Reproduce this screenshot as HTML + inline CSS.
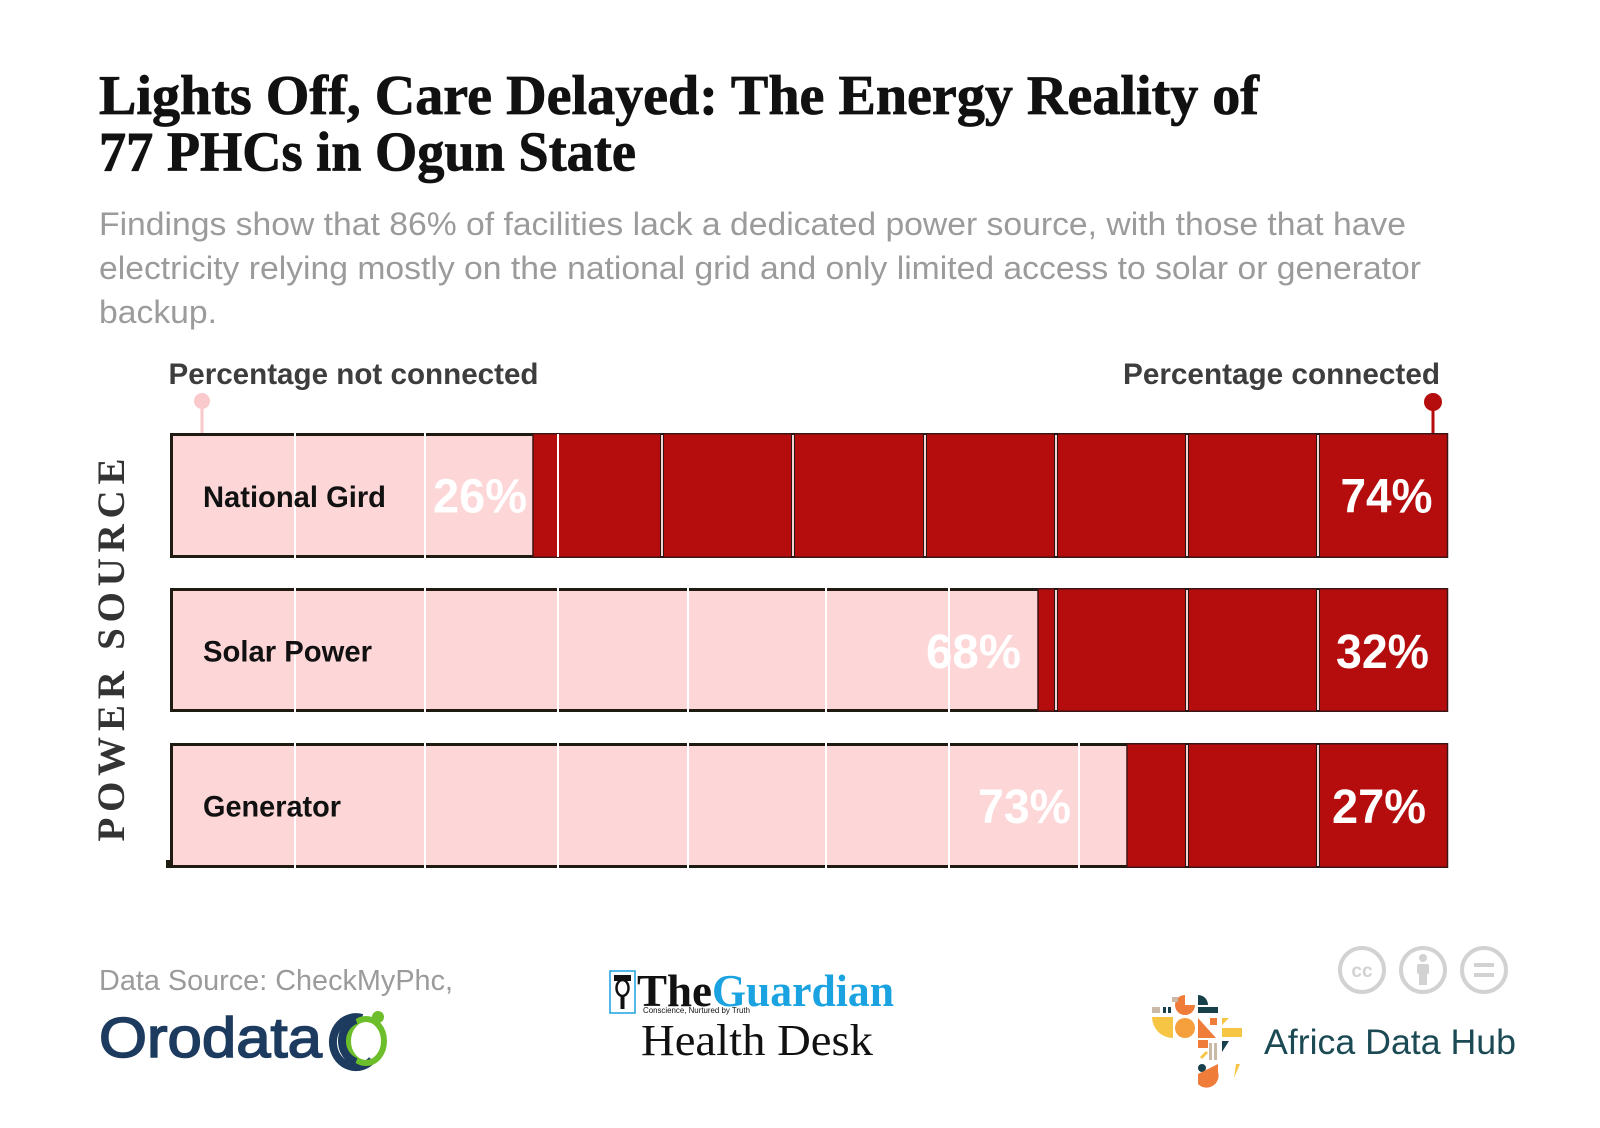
<!DOCTYPE html>
<html><head><meta charset="utf-8"><style>
html,body{margin:0;padding:0;background:#fff;}
svg{display:block;}
text{font-family:"Liberation Sans",sans-serif;}
.serif{font-family:"Liberation Serif",serif;}
</style></head><body>
<svg width="1600" height="1128" viewBox="0 0 1600 1128" xmlns="http://www.w3.org/2000/svg">
<rect width="1600" height="1128" fill="#fff"/>

<!-- Title -->
<text class="serif" x="99" y="114" font-size="56" font-weight="700" fill="#111" stroke="#111" stroke-width="0.8" textLength="1160" lengthAdjust="spacingAndGlyphs">Lights Off, Care Delayed: The Energy Reality of</text>
<text class="serif" x="99" y="170.5" font-size="56" font-weight="700" fill="#111" stroke="#111" stroke-width="0.8" textLength="537" lengthAdjust="spacingAndGlyphs">77 PHCs in Ogun State</text>

<!-- Subtitle -->
<text x="99" y="235" font-size="32" fill="#9b9b9b" textLength="1307" lengthAdjust="spacingAndGlyphs">Findings show that 86% of facilities lack a dedicated power source, with those that have</text>
<text x="99" y="279" font-size="32" fill="#9b9b9b" textLength="1322" lengthAdjust="spacingAndGlyphs">electricity relying mostly on the national grid and only limited access to solar or generator</text>
<text x="99" y="323" font-size="32" fill="#9b9b9b" textLength="118" lengthAdjust="spacingAndGlyphs">backup.</text>

<!-- Legend labels -->
<text x="168.5" y="384" font-size="30" font-weight="700" fill="#3d3d3d" textLength="370" lengthAdjust="spacingAndGlyphs">Percentage not connected</text>
<text x="1123" y="384" font-size="30" font-weight="700" fill="#3d3d3d" textLength="317" lengthAdjust="spacingAndGlyphs">Percentage connected</text>

<!-- markers -->
<rect x="200.5" y="401" width="3" height="32" fill="#f9c9cc"/>
<circle cx="202" cy="401" r="8" fill="#f9c9cc"/>
<rect x="1431.5" y="402" width="3" height="31" fill="#b50d0d"/>
<circle cx="1433" cy="402" r="9" fill="#b50d0d"/>

<!-- POWER SOURCE -->
<text class="serif" transform="translate(124,650) rotate(-90)" x="0" y="0" text-anchor="middle" font-size="39" font-weight="700" fill="#333" textLength="383" lengthAdjust="spacing">POWER SOURCE</text>

<!-- Row 1 -->
<g>
<rect x="170" y="433" width="363" height="125" fill="#fdd6d7"/>
<rect x="170" y="433" width="363" height="3" fill="#1f1a12"/>
<rect x="170" y="555" width="363" height="3" fill="#1f1a12"/>
<rect x="170" y="433" width="3" height="125" fill="#1f1a12"/>
<rect x="533" y="433.75" width="914.5" height="123.5" fill="#b50d0d" stroke="#3e1515" stroke-width="1.5"/>
<rect x="294" y="433" width="2" height="125" fill="#fff"/>
<rect x="424" y="433" width="2" height="125" fill="#fff"/>
<rect x="557" y="434" width="2" height="123" fill="#fff"/>
</g>
<!-- Row 2 -->
<g>
<rect x="170" y="588" width="868" height="124" fill="#fdd6d7"/>
<rect x="170" y="588" width="868" height="3" fill="#1f1a12"/>
<rect x="170" y="709" width="868" height="3" fill="#1f1a12"/>
<rect x="170" y="588" width="3" height="124" fill="#1f1a12"/>
<rect x="1038" y="588.75" width="409.5" height="122.5" fill="#b50d0d" stroke="#3e1515" stroke-width="1.5"/>
<rect x="294" y="588" width="2" height="124" fill="#fff"/>
<rect x="424" y="588" width="2" height="124" fill="#fff"/>
<rect x="557" y="588" width="2" height="124" fill="#fff"/>
<rect x="687" y="588" width="2" height="124" fill="#fff"/>
<rect x="825" y="588" width="2" height="124" fill="#fff"/>
<rect x="948" y="588" width="2" height="124" fill="#fff"/>
</g>
<!-- Row 3 -->
<g>
<rect x="170" y="743" width="957" height="125" fill="#fdd6d7"/>
<rect x="170" y="743" width="957" height="3" fill="#1f1a12"/>
<rect x="166" y="865" width="961" height="3" fill="#1f1a12"/>
<rect x="170" y="743" width="3" height="125" fill="#1f1a12"/>
<rect x="166" y="860" width="4" height="8" fill="#1f1a12"/>
<rect x="1127" y="743.75" width="320.5" height="123.5" fill="#b50d0d" stroke="#3e1515" stroke-width="1.5"/>
<rect x="294" y="743" width="2" height="125" fill="#fff"/>
<rect x="424" y="743" width="2" height="125" fill="#fff"/>
<rect x="557" y="743" width="2" height="125" fill="#fff"/>
<rect x="687" y="743" width="2" height="125" fill="#fff"/>
<rect x="825" y="743" width="2" height="125" fill="#fff"/>
<rect x="948" y="743" width="2" height="125" fill="#fff"/>
<rect x="1078" y="743" width="2" height="125" fill="#fff"/>
</g>

<!-- separators in red -->
<g>
<rect x="660" y="433" width="4" height="125" fill="#2a1515"/><rect x="661" y="435" width="2" height="121" fill="#f6d2d2"/>
<rect x="791" y="433" width="4" height="125" fill="#2a1515"/><rect x="792" y="435" width="2" height="121" fill="#f6d2d2"/>
<rect x="923" y="433" width="4" height="125" fill="#2a1515"/><rect x="924" y="435" width="2" height="121" fill="#f6d2d2"/>
<rect x="1054" y="433" width="4" height="125" fill="#2a1515"/><rect x="1055" y="435" width="2" height="121" fill="#f6d2d2"/>
<rect x="1185" y="433" width="4" height="125" fill="#2a1515"/><rect x="1186" y="435" width="2" height="121" fill="#f6d2d2"/>
<rect x="1316" y="433" width="4" height="125" fill="#2a1515"/><rect x="1317" y="435" width="2" height="121" fill="#f6d2d2"/>
<rect x="1054" y="588" width="4" height="124" fill="#2a1515"/><rect x="1055" y="590" width="2" height="120" fill="#f6d2d2"/>
<rect x="1185" y="588" width="4" height="124" fill="#2a1515"/><rect x="1186" y="590" width="2" height="120" fill="#f6d2d2"/>
<rect x="1316" y="588" width="4" height="124" fill="#2a1515"/><rect x="1317" y="590" width="2" height="120" fill="#f6d2d2"/>
<rect x="1185" y="743" width="4" height="125" fill="#2a1515"/><rect x="1186" y="745" width="2" height="121" fill="#f6d2d2"/>
<rect x="1316" y="743" width="4" height="125" fill="#2a1515"/><rect x="1317" y="745" width="2" height="121" fill="#f6d2d2"/>
</g>

<!-- Row labels -->
<text x="203" y="507" font-size="30" font-weight="700" fill="#111" textLength="183" lengthAdjust="spacingAndGlyphs">National Gird</text>
<text x="203" y="661.5" font-size="30" font-weight="700" fill="#111" textLength="169" lengthAdjust="spacingAndGlyphs">Solar Power</text>
<text x="203" y="816.5" font-size="30" font-weight="700" fill="#111" textLength="138" lengthAdjust="spacingAndGlyphs">Generator</text>

<!-- Percent labels -->
<g font-size="48" font-weight="700" fill="#fff">
<text x="433" y="512.5" textLength="94" lengthAdjust="spacingAndGlyphs">26%</text>
<text x="1340.5" y="512.5" textLength="92" lengthAdjust="spacingAndGlyphs">74%</text>
<text x="926" y="668" textLength="95" lengthAdjust="spacingAndGlyphs">68%</text>
<text x="1336" y="668" textLength="93" lengthAdjust="spacingAndGlyphs">32%</text>
<text x="978" y="823" textLength="93" lengthAdjust="spacingAndGlyphs">73%</text>
<text x="1332" y="823" textLength="94" lengthAdjust="spacingAndGlyphs">27%</text>
</g>

<!-- Footer: data source -->
<text x="99" y="990" font-size="29" fill="#9b9b9b" textLength="354" lengthAdjust="spacingAndGlyphs">Data Source: CheckMyPhc,</text>
<text x="99" y="1057" font-size="57" fill="#1d3b5e" stroke="#1d3b5e" stroke-width="1.6" textLength="223" lengthAdjust="spacingAndGlyphs">Orodata</text>
<!-- Orodata ring -->
<path d="M 362 1018 A 23 25 0 1 0 372 1060" fill="none" stroke="#1d3b5e" stroke-width="8"/>
<ellipse cx="366" cy="1041" rx="18" ry="22" fill="none" stroke="#6cbf2a" stroke-width="6"/>
<path d="M 356 1020 A 20 22 0 0 0 356 1062" fill="none" stroke="#1d3b5e" stroke-width="8"/>
<circle cx="378" cy="1017" r="6" fill="#6cbf2a"/>

<!-- Guardian -->
<rect x="610" y="971" width="25" height="42" fill="#fff" stroke="#1aa3e0" stroke-width="1.5"/>
<rect x="614" y="975" width="17" height="6" fill="#111"/>
<ellipse cx="622.5" cy="988" rx="6" ry="8" fill="none" stroke="#111" stroke-width="2.5"/>
<rect x="620.5" y="995" width="4" height="14" fill="#111"/>
<text class="serif" x="637" y="1006" font-size="46" font-weight="700" fill="#111" textLength="75" lengthAdjust="spacingAndGlyphs">The</text>
<text class="serif" x="712" y="1006" font-size="46" font-weight="700" fill="#1aa3e0" textLength="182" lengthAdjust="spacingAndGlyphs">Guardian</text>
<text x="643" y="1013" font-size="8" fill="#111" textLength="107" lengthAdjust="spacingAndGlyphs">Conscience, Nurtured by Truth</text>
<text class="serif" x="641" y="1055" font-size="44" fill="#111" textLength="232" lengthAdjust="spacingAndGlyphs">Health Desk</text>

<!-- CC icons -->
<g fill="none" stroke="#d2d2d2" stroke-width="4">
<circle cx="1362" cy="970" r="22"/>
<circle cx="1423" cy="970" r="22"/>
<circle cx="1484" cy="970" r="22"/>
</g>
<text x="1362" y="977" font-size="19" font-weight="700" fill="#d2d2d2" text-anchor="middle">cc</text>
<circle cx="1423" cy="958" r="4" fill="#d2d2d2"/>
<rect x="1417" y="964" width="12" height="10" rx="2" fill="#d2d2d2"/>
<rect x="1419" y="972" width="8" height="13" fill="#d2d2d2"/>
<rect x="1474" y="963" width="20" height="4" fill="#d2d2d2"/>
<rect x="1474" y="973" width="20" height="4" fill="#d2d2d2"/>

<!-- Africa Data Hub mosaic -->
<g>
<rect x="1152" y="1007" width="8" height="6" fill="#c9b9a6"/>
<rect x="1163" y="1007" width="3" height="6" fill="#17404a"/>
<rect x="1168" y="1007" width="3" height="6" fill="#17404a"/>
<path d="M1185 995 A10 10 0 1 0 1195 1005 L1185 1005 Z" fill="#f07c3a"/>
<rect x="1172" y="997" width="6" height="5" fill="#c9b9a6"/>
<path d="M1198 995 A10 10 0 0 1 1208 1005 L1198 1005 Z" fill="#17404a"/>
<rect x="1198" y="1007" width="20" height="6" fill="#17404a"/>
<path d="M1152 1017 L1173 1017 L1173 1038 A21 21 0 0 1 1152 1017 Z" fill="#f7c544"/>
<circle cx="1185" cy="1028" r="10" fill="#f5a03c"/>
<path d="M1198 1018 L1198 1038 L1216 1038 Z" fill="#f07c3a"/>
<rect x="1210" y="1018" width="7" height="7" fill="#f07c3a"/>
<path d="M1222 1018 L1229 1018 L1222 1025 Z" fill="#f7c544"/>
<rect x="1222" y="1028" width="20" height="9" fill="#f7c544"/>
<rect x="1198" y="1040" width="10" height="8" fill="#f07c3a"/>
<rect x="1209" y="1043" width="3" height="17" fill="#c9b9a6"/>
<rect x="1214" y="1043" width="3" height="17" fill="#c9b9a6"/>
<path d="M1222 1041 L1229 1041 L1222 1052 Z" fill="#17404a"/>
<path d="M1200 1057 L1206 1051 L1208 1053 L1202 1059 Z" fill="#f7c544"/>
<circle cx="1202" cy="1068" r="4" fill="#17404a"/>
<path d="M1198 1074 L1218 1064 L1218 1072 A12 12 0 0 1 1198 1084 Z" fill="#f07c3a"/>
<path d="M1236 1064 L1240 1064 L1234 1078 Z" fill="#f7c544"/>
</g>
<text x="1264" y="1054" font-size="35" fill="#1b4a55" textLength="252" lengthAdjust="spacingAndGlyphs">Africa Data Hub</text>
</svg>
</body></html>
